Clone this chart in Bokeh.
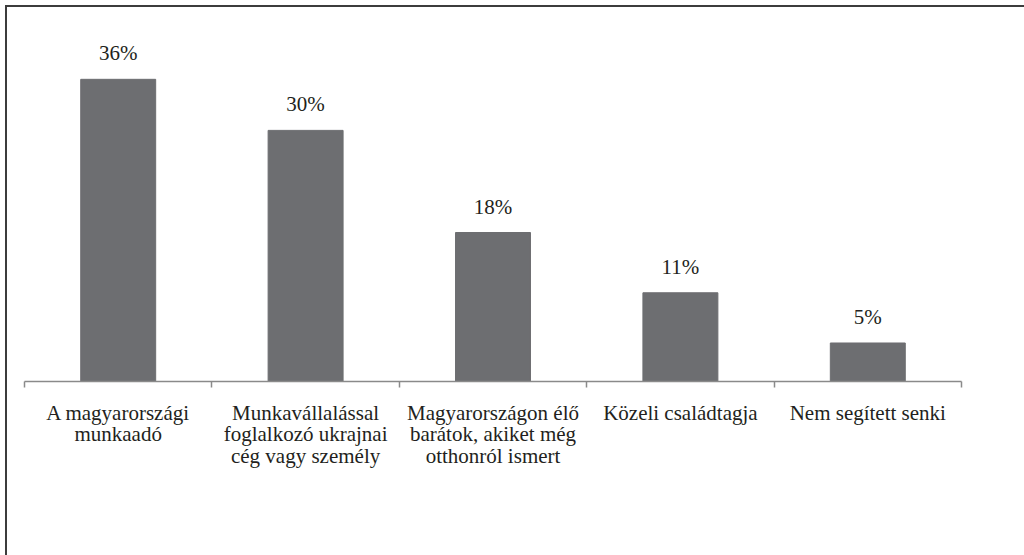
from bokeh.plotting import figure
from bokeh.models import Range1d, FixedTicker, ColumnDataSource
from bokeh.core.properties import value
from bokeh.embed import file_html
from bokeh.resources import INLINE

categories = [
    "A magyarországi\nmunkaadó",
    "Munkavállalással\nfoglalkozó ukrajnai\ncég vagy személy",
    "Magyarországon élő\nbarátok, akiket még\notthonról ismert",
    "Közeli családtagja",
    "Nem segített senki",
]
values = [36.1, 30.0, 17.8, 10.6, 4.6]
value_labels = ["36%", "30%", "18%", "11%", "5%"]

FONT = "Liberation Serif"
TEXT_COLOR = "#231f20"
BAR_COLOR = "#6d6e71"

n = len(categories)
centers = [i + 0.5 for i in range(n)]

p = figure(
    width=1024, height=555,
    frame_width=937, frame_height=357,
    min_border_left=24, min_border_top=24, min_border_right=63, min_border_bottom=174,
    x_range=Range1d(0, n), y_range=Range1d(0, 42.65),
    y_axis_location=None, output_backend="svg", toolbar_location=None,
)
p.outline_line_color = None
p.xgrid.visible = False
p.ygrid.visible = False
p.border_fill_color = None
p.background_fill_color = None
p.styles = {
    "background": "linear-gradient(#3c3c3c, #3c3c3c) 5px 5px / 2px calc(100% - 5px) no-repeat, "
                  "linear-gradient(#3c3c3c, #3c3c3c) 5px 5px / calc(100% - 5px) 2px no-repeat, #ffffff"
}

src = ColumnDataSource(dict(x=centers, top=values, lab=value_labels))
p.vbar(x="x", top="top", width=0.4, bottom=0, source=src,
       fill_color=BAR_COLOR, line_color=BAR_COLOR)
p.text(x="x", y="top", text="lab", source=src, y_offset=-26,
       text_align="center", text_baseline="alphabetic",
       text_font=value(FONT), text_font_size="21px", text_color=TEXT_COLOR)

ax = p.xaxis[0]
ax.ticker = FixedTicker(ticks=centers, minor_ticks=list(range(n + 1)))
ax.major_label_overrides = {c: lab for c, lab in zip(centers, categories)}
ax.major_tick_out = 0
ax.major_tick_in = 0
ax.minor_tick_out = 6
ax.minor_tick_in = 0
ax.axis_line_color = "#8a8a8a"
ax.axis_line_width = 1.5
ax.minor_tick_line_color = "#8a8a8a"
ax.minor_tick_line_width = 1.5
ax.major_label_standoff = 13
ax.major_label_text_font = FONT
ax.major_label_text_font_size = "21px"
ax.major_label_text_color = TEXT_COLOR
ax.major_label_text_align = "center"
ax.major_label_text_line_height = 0.91

open("out.html", "w").write(file_html(p, INLINE))
